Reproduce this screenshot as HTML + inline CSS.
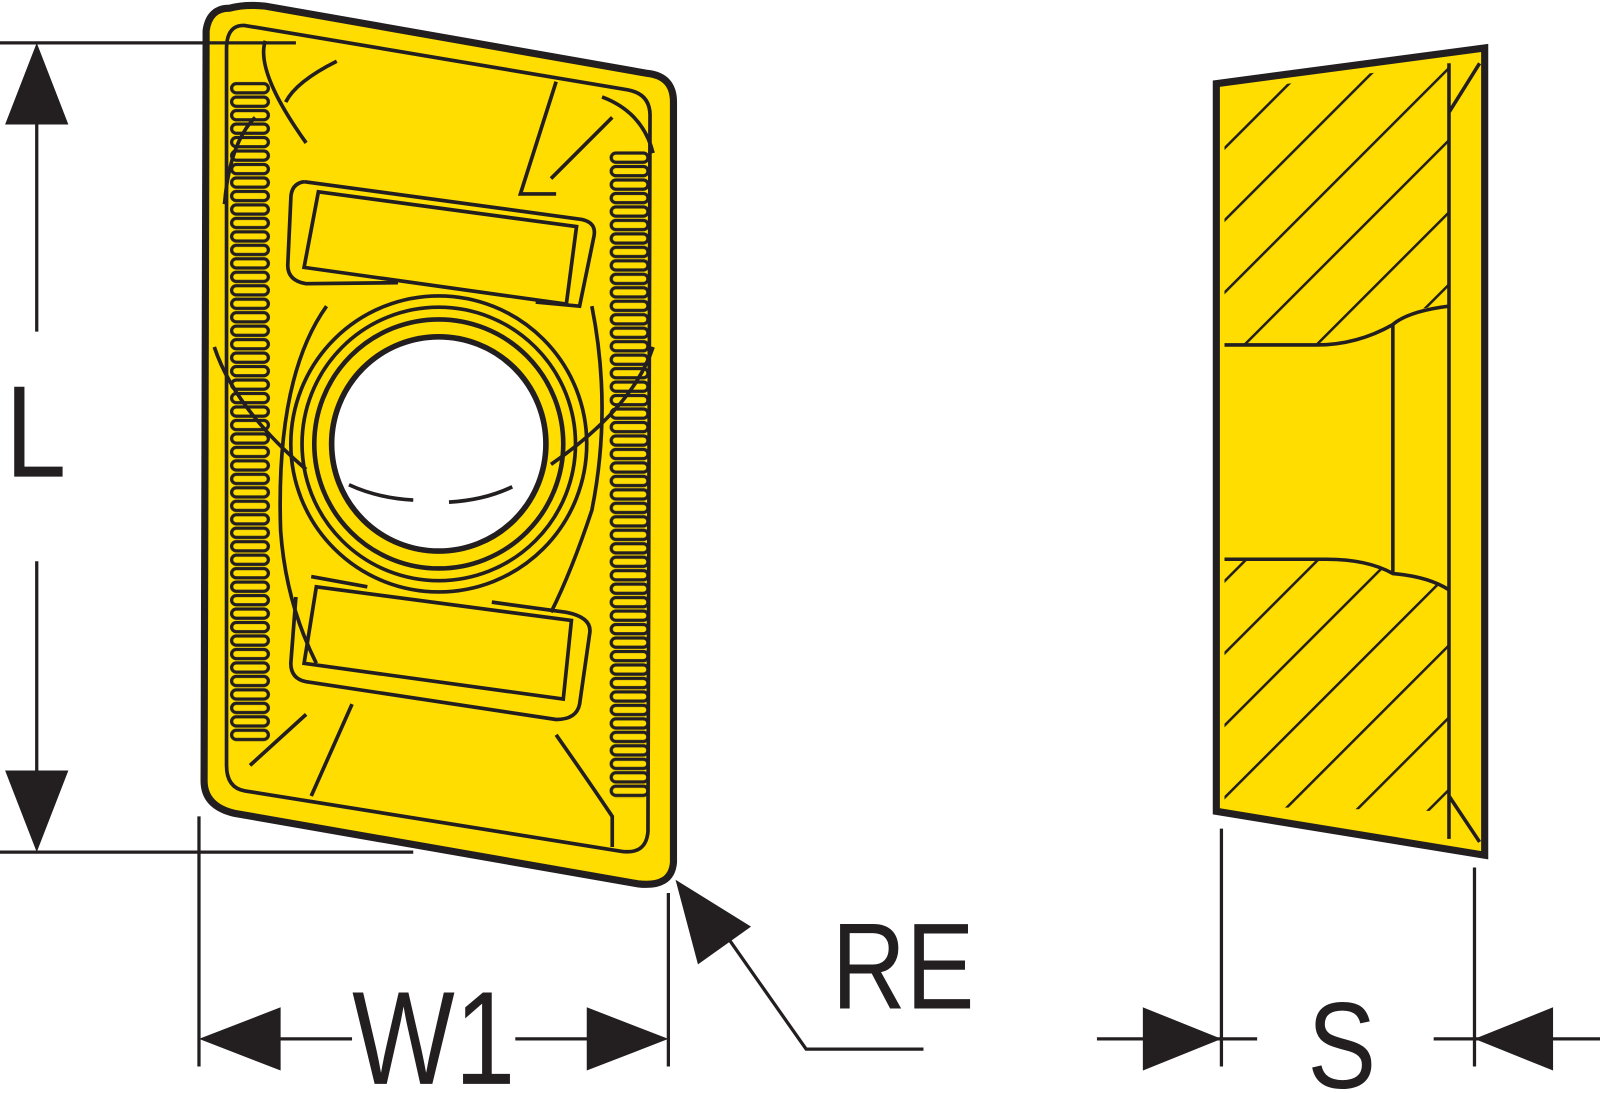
<!DOCTYPE html>
<html><head><meta charset="utf-8"><style>
html,body{margin:0;padding:0;background:#fff;}
svg{display:block;}
text{font-family:"Liberation Sans",sans-serif;fill:#231f20;}
</style></head><body>
<svg width="1600" height="1093" viewBox="0 0 1568 1071" preserveAspectRatio="none" xmlns="http://www.w3.org/2000/svg">
<defs>
  <pattern id="serL" x="224" y="80" width="42" height="13.2" patternUnits="userSpaceOnUse">
    <rect x="3" y="2" width="36" height="9" rx="4.5" fill="none" stroke="#231f20" stroke-width="3.2"/>
  </pattern>
  <pattern id="serR" x="596" y="148" width="42" height="13.2" patternUnits="userSpaceOnUse">
    <rect x="3" y="2" width="36" height="9" rx="4.5" fill="none" stroke="#231f20" stroke-width="3.2"/>
  </pattern>
  <pattern id="hatch" width="50" height="50" patternUnits="userSpaceOnUse" patternTransform="rotate(45)">
    <line x1="0" y1="0" x2="0" y2="50" stroke="#231f20" stroke-width="5"/>
  </pattern>
</defs>

<path d="M225,8 Q205,8 202,30 L200,765 Q200,790 230,797 L625,866 Q658,870 660,845 L660,100 Q660,75 635,72 L260,6 Q240,4 225,8 Z" fill="#ffdd00" stroke="#231f20" stroke-width="7"/>
<g fill="none" stroke="#231f20" stroke-width="3.6">
<path d="M240,25 L615,88 Q638,92 637,115 L635,815 Q633,838 608,834 L240,775 Q222,772 222,750 L222,48 Q222,24 240,25 Z"/>
</g>
<rect x="224" y="80" width="42" height="647" fill="url(#serL)"/>
<rect x="596" y="148" width="42" height="634" fill="url(#serR)"/>
<g fill="none" stroke="#231f20" stroke-width="3.6">
<path d="M298,178 L570,215 Q585,218 582,232 L568,300 L525,296 M298,178 Q285,180 285,195 L282,260 Q282,275 300,278 L390,277"/>
<path d="M312,188 L565,222 L555,298 L298,262 Z"/>
<path d="M305,565 L360,575 M482,590 L555,600 Q580,605 578,620 L568,690 Q565,705 545,705 L300,668 Q285,665 285,650 L290,585"/>
<path d="M310,575 L560,608 L552,685 L298,650 Z"/>
<path d="M260,40 Q250,70 300,140 M330,60 Q290,80 280,100 M545,80 L510,190 L545,190 M600,115 L540,175 M590,95 Q630,110 640,150 M250,115 Q225,140 220,200 M320,300 Q270,370 275,520 Q280,590 310,650 M580,300 Q600,400 580,500 Q560,560 540,600 M210,340 Q230,400 300,460 M640,340 Q620,400 540,455 M300,700 L245,750 M345,690 L305,780 M545,720 Q580,770 600,800 L600,830"/>
<circle cx="430" cy="435" r="145"/>
<circle cx="430" cy="435" r="134"/>
<circle cx="430" cy="435" r="122" stroke-width="4.5"/>
<path d="M342,475 Q370,488 405,490 M440,492 Q475,490 502,477"/>
</g>
<circle cx="430" cy="435" r="105" fill="#fff" stroke="#231f20" stroke-width="5.5"/>
<path d="M342,475 Q370,488 405,490 M440,492 Q475,490 502,477" fill="none" stroke="#231f20" stroke-width="3.6"/>

<path d="M1192,82 L1455,47 L1455,838 L1192,795 Z" fill="#ffdd00"/>
<path d="M1200,90 L1420,62 L1420,300 Q1380,300 1365,318 Q1330,338 1290,338 L1200,338 Z" fill="url(#hatch)"/>
<path d="M1200,548 L1300,548 Q1340,548 1365,562 Q1400,565 1420,578 L1420,795 L1200,790 Z" fill="url(#hatch)"/>
<path d="M1200,338 L1290,338 Q1330,338 1365,318 Q1380,305 1420,300 M1365,318 L1365,562 M1200,548 L1300,548 Q1340,548 1365,562 Q1400,565 1420,578 M1420,62 L1420,822 M1420,110 L1450,62 M1420,780 L1450,825" fill="none" stroke="#231f20" stroke-width="3.5"/>
<path d="M1192,82 L1455,47 L1455,838 L1192,795 Z" fill="none" stroke="#231f20" stroke-width="7"/>

<g stroke="#231f20" stroke-width="3.2" fill="none">
  <line x1="0" y1="42" x2="290" y2="42"/>
  <line x1="0" y1="835" x2="405" y2="835"/>
  <line x1="36" y1="100" x2="36" y2="325"/>
  <line x1="36" y1="550" x2="36" y2="780"/>
  <line x1="195" y1="800" x2="195" y2="1045"/>
  <line x1="655" y1="875" x2="655" y2="1045"/>
  <line x1="260" y1="1018" x2="345" y2="1018"/>
  <line x1="505" y1="1018" x2="590" y2="1018"/>
  <polyline points="700,900 790,1028 905,1028"/>
  <line x1="1197" y1="812" x2="1197" y2="1045"/>
  <line x1="1445" y1="850" x2="1445" y2="1045"/>
  <line x1="1075" y1="1018" x2="1232" y2="1018"/>
  <line x1="1405" y1="1018" x2="1568" y2="1018"/>
</g>
<g fill="#231f20">
  <polygon points="36,42 5,122 67,122"/>
  <polygon points="36,835 5,755 67,755"/>
  <polygon points="195,1018 275,987 275,1049"/>
  <polygon points="655,1018 575,987 575,1049"/>
  <polygon points="662,862 736,908 684,945"/>
  <polygon points="1197,1018 1120,987 1120,1049"/>
  <polygon points="1445,1018 1522,987 1522,1049"/>
</g>
<g transform="translate(35,0) scale(0.84,1)"><text x="0" y="467" font-size="128" text-anchor="middle">L</text></g>
<g transform="translate(425,0) scale(0.82,1)"><text x="0" y="1062" font-size="130" text-anchor="middle">W1</text></g>
<g transform="translate(885,0) scale(0.84,1)"><text x="0" y="988" font-size="120" text-anchor="middle">RE</text></g>
<g transform="translate(1315,0) scale(0.84,1)"><text x="0" y="1066" font-size="120" text-anchor="middle">S</text></g>
</svg>
</body></html>
